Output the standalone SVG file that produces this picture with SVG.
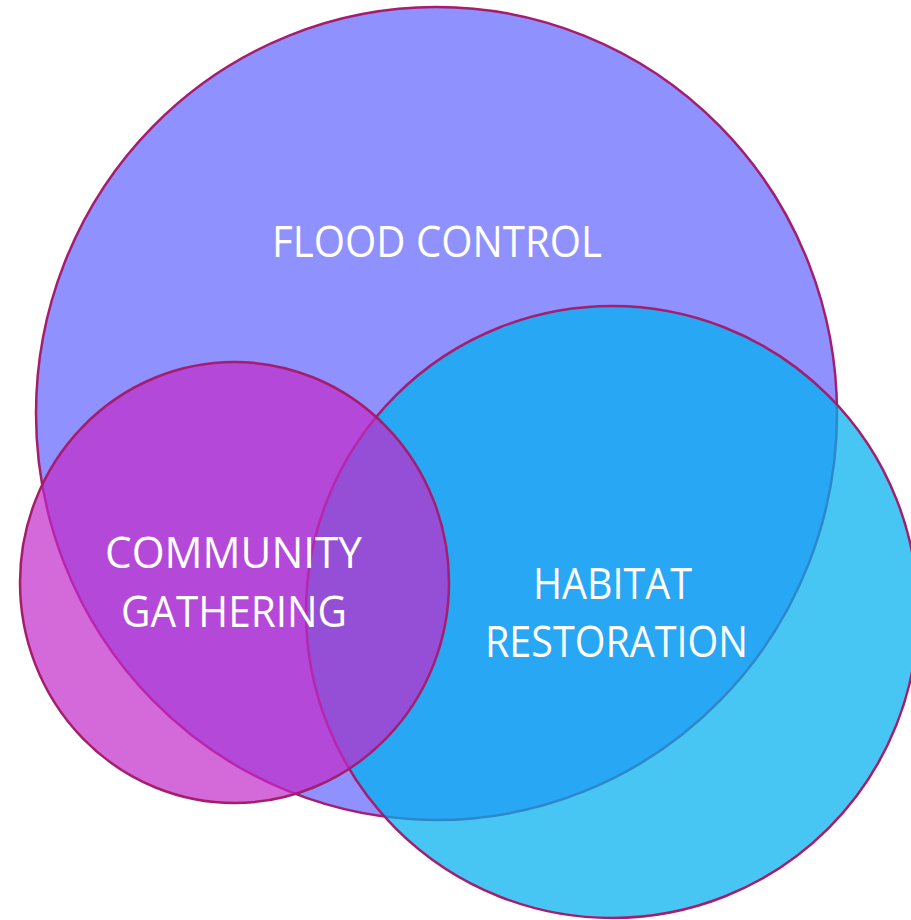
<svg xmlns="http://www.w3.org/2000/svg" width="911" height="920" viewBox="0 0 911 920">
<style>
.set{stroke:#A51D6C;stroke-width:2.5}
.lbl{fill:#ffffff;font-family:"Open Sans","Noto Sans","Liberation Sans",sans-serif;font-size:43px;text-anchor:middle}
</style>
<rect width="911" height="920" fill="#ffffff"/>
<g id="flood-control">
<ellipse class="set" cx="436.5" cy="413.5" rx="400.5" ry="406.5" fill="#8F91FE"/>
</g>
<g id="habitat-restoration">
<circle class="set" cx="612" cy="612" r="306" fill="#00B0F0" fill-opacity="0.72"/>
</g>
<g id="community-gathering">
<ellipse class="set" cx="234.5" cy="582.5" rx="214.5" ry="220.5" fill="#C22AC9" fill-opacity="0.7"/>
</g>
<g id="labels">
<text class="lbl" x="437" y="257" textLength="330" lengthAdjust="spacingAndGlyphs">FLOOD CONTROL</text>
<text class="lbl" x="233.5" y="568" textLength="257" lengthAdjust="spacingAndGlyphs">COMMUNITY</text>
<text class="lbl" x="234" y="627" textLength="226" lengthAdjust="spacingAndGlyphs">GATHERING</text>
<text class="lbl" x="612.5" y="599" textLength="159" lengthAdjust="spacingAndGlyphs">HABITAT</text>
<text class="lbl" x="616.5" y="657" textLength="263" lengthAdjust="spacingAndGlyphs">RESTORATION</text>
</g>
</svg>
